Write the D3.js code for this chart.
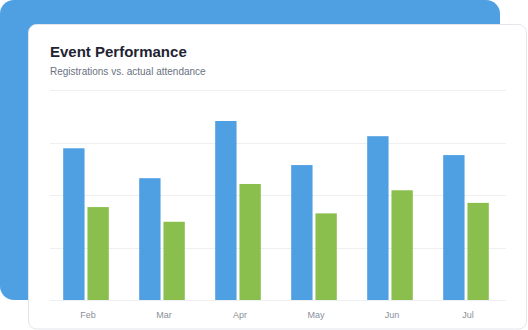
<!DOCTYPE html>
<html>
<head>
<meta charset="utf-8">
<script src="https://cdn.jsdelivr.net/npm/d3@7"></script>
<style>
  body { margin: 0; background: #fff; }
  svg { display: block; font-family: "Liberation Sans", Arial, sans-serif; }
</style>
</head>
<body>
<svg id="chart" width="528" height="330"></svg>
<script>
// Data
const months = ["Feb", "Mar", "Apr", "May", "Jun", "Jul"];
const seriesKeys = ["registrations", "attendance"];
const registrations = [289, 232, 341, 257, 312, 276];
const attendance = [177, 149, 221, 165, 209, 185];
const yTicks = [0, 100, 200, 300, 400];

const blue = "#4f9fe3";
const green = "#8abf4e";

const svg = d3.select("#chart");

// Background cards
svg.append("rect")
    .attr("x", 0).attr("y", 0)
    .attr("width", 500).attr("height", 300)
    .attr("rx", 14)
    .attr("fill", blue);

svg.append("rect")
    .attr("x", 28.5).attr("y", 24.5)
    .attr("width", 498).attr("height", 304.5)
    .attr("rx", 8)
    .attr("fill", "#fff")
    .attr("stroke", "#e3e6eb");

// Header
svg.append("text")
    .attr("x", 50).attr("y", 57)
    .attr("font-size", 15)
    .attr("font-weight", "bold")
    .attr("fill", "#1f2433")
    .text("Event Performance");

svg.append("text")
    .attr("x", 50).attr("y", 75)
    .attr("font-size", 10)
    .attr("fill", "#6b7280")
    .text("Registrations vs. actual attendance");

// Scales
const x0 = d3.scaleBand()
    .domain(months)
    .range([50, 506])
    .paddingInner(0.4)
    .paddingOuter(0.2);

const x1 = d3.scaleBand()
    .domain(seriesKeys)
    .range([-2, x0.bandwidth() - 2])
    .paddingInner(0.12);

const y = d3.scaleLinear()
    .domain([0, 400])
    .range([300, 90]);

// Gridlines
svg.append("g")
    .selectAll("line")
    .data(yTicks)
    .join("line")
        .attr("x1", 50)
        .attr("x2", 506)
        .attr("y1", d => Math.round(y(d)) + 0.5)
        .attr("y2", d => Math.round(y(d)) + 0.5)
        .attr("stroke", "#eeeff1");

// Bars
const rows = months.map((m, i) => ({
    month: m,
    registrations: registrations[i],
    attendance: attendance[i]
}));

const color = d3.scaleOrdinal().domain(seriesKeys).range([blue, green]);

svg.append("g")
    .selectAll("g")
    .data(rows)
    .join("g")
        .attr("transform", d => "translate(" + x0(d.month) + ",0)")
    .selectAll("rect")
    .data(d => seriesKeys.map(k => ({key: k, value: d[k]})))
    .join("rect")
        .attr("x", d => x1(d.key))
        .attr("y", d => y(d.value))
        .attr("width", x1.bandwidth())
        .attr("height", d => y(0) - y(d.value))
        .attr("fill", d => color(d.key));

// X axis labels
const xAxis = svg.append("g")
    .attr("transform", "translate(0,300)")
    .call(d3.axisBottom(x0).tickSize(0).tickPadding(12));

xAxis.select(".domain").remove();
xAxis.selectAll("text")
    .attr("font-family", "Liberation Sans, Arial, sans-serif")
    .attr("font-size", 9)
    .attr("fill", "#8a8f9a");
</script>
</body>
</html>
